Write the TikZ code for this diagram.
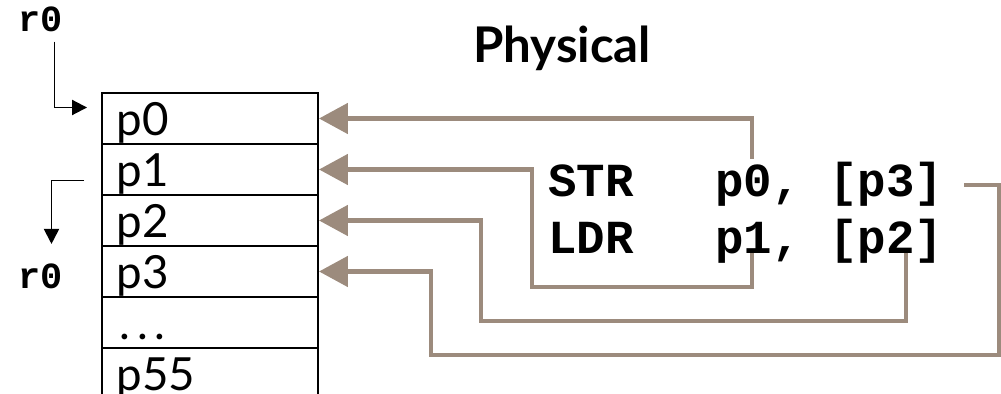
\documentclass[tikz,border=0pt]{standalone}
\usepackage{fontspec}
\setmainfont{Lato}
\setmonofont{Liberation Mono}
\usepackage{tikz}
\usepackage{xcolor}
\usetikzlibrary{arrows.meta,positioning,calc}
\definecolor{mapbrown}{RGB}{156,139,125}

\begin{document}
\begin{tikzpicture}[x=0.02cm, y=-0.02cm,
    reg/.style={draw, rectangle, line width=1.1pt, minimum width=4.32cm, minimum height=1.02cm, inner sep=0pt},
    regname/.style={anchor=base west, inner sep=0pt, font=\fontsize{26}{28}\selectfont},
    instr/.style={anchor=base west, inner sep=0pt, font=\ttfamily\bfseries\fontsize{27}{30}\selectfont},
    lbl/.style={anchor=base west, inner sep=0pt, font=\ttfamily\bfseries\fontsize{21}{22}\selectfont},
    ptr/.style={-{Triangle[length=3mm,width=3mm]}, line width=1.1pt},
    remap/.style={-{Triangle[length=5.8mm,width=6mm]}, line width=2.8pt, draw=mapbrown}]
                \useasboundingbox (0,0) rectangle (1001,394);
                \clip (0,0) rectangle (1001,394);

                % Register nodes
                \node[reg] (p0) at (210,118.5) {};
                \node[reg] (p1) at (210,169.5) {};
                \node[reg] (p2) at (210,220.5) {};
                \node[reg] (p3) at (210,271.5) {};
                \node[reg] (pdots) at (210,322.5) {};
                \node[reg] (p55) at (210,373.5) {};

                % Register names
                \node[regname] (n0) at ($(p0.south west)+(15,-9)$) {p0};
                \node[regname] (n1) at ($(p1.south west)+(15,-9)$) {p1};
                \node[regname] (n2) at ($(p2.south west)+(15,-9)$) {p2};
                \node[regname] (n3) at ($(p3.south west)+(15,-9)$) {p3};
                \node[regname] (ndots) at ($(pdots.south west)+(18,-9)$) {.\kern4pt.\kern4pt.};
                \node[regname] (n55) at ($(p55.south west)+(15,-9)$) {p55};

                % Title and labels
                \node[anchor=base, inner sep=0pt, font=\fontsize{28}{30}\selectfont\bfseries] (title) at (562,63) {Physical};
                \node[lbl] (rtop) at (18,32) {r0};
                \node[lbl] (rbot) at (18,289) {r0};

                % Instructions
                \node[instr] (str) at (548,197) {STR};
                \node[instr] (strops) at (715,197) {p0, [p3]};
                \node[instr] (ldr) at (548,254) {LDR};
                \node[instr] (ldrops) at (715,254) {p1, [p2]};

                % Operand ends
                \coordinate (s0) at (752,159);
                \coordinate (s1) at (752,253);
                \coordinate (s2) at (906,253);
                \coordinate (s3) at (964,185);
                \coordinate (b1) at (532,287);
                \coordinate (b2) at (481,321);
                \coordinate (c3) at (999,355);
                \coordinate (b3) at (431,355);

                % r0 pointers
                \draw[ptr] ($(rtop.south)+(14,9)$) |- ($(p0.west)+(-14,-11)$);
                \draw[ptr] ($(p1.west)+(-17,11)$) -| ($(rbot.north)+(11,-20)$);

                % Operand mapping
                \draw[remap] (s0) |- (p0.east);
                \draw[remap] (s1) |- (b1) |- (p1.east);
                \draw[remap] (s2) |- (b2) |- (p2.east);
                \draw[remap] (s3) -| (c3) -- (b3) |- (p3.east);
            \end{tikzpicture}
\end{document}
